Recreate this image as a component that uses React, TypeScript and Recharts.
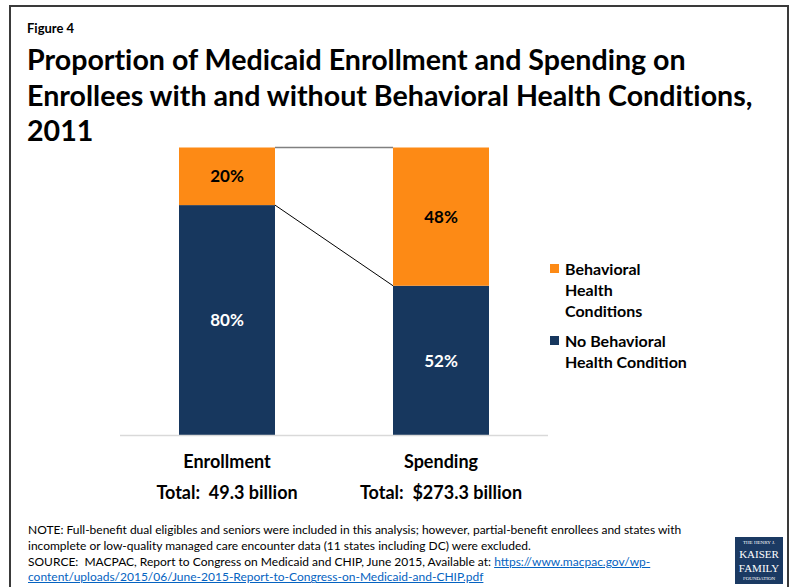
import React from 'react';
import { BarChart, Bar, XAxis, YAxis, LabelList, Legend } from 'recharts';

const categories = ['Enrollment', 'Spending'];
const totals = ['Total:  49.3 billion', 'Total:  $273.3 billion'];
const noBehavioral = [80, 52];
const behavioral = [20, 48];

const ORANGE = '#FD8A15';
const NAVY = '#17375E';
const FONT = 'Lato, "Open Sans", sans-serif';

const data = categories.map((name, i) => ({
  name,
  total: totals[i],
  nobh: noBehavioral[i],
  bh: behavioral[i],
}));

// rectangles drawn by the bars, kept so the connector lines can join their corners
const rects: Record<string, { x: number; y: number; width: number; height: number }> = {};

const NavyShape = (props: any) => {
  const { x, y, width, height, index } = props;
  rects['n' + index] = { x, y, width, height };
  return <rect x={x} y={y} width={width} height={height} fill={NAVY} />;
};

const OrangeShape = (props: any) => {
  const { x, y, width, height, index } = props;
  rects['o' + index] = { x, y, width, height };
  const a = rects.o0;
  const b = rects.n0;
  return (
    <g>
      <rect x={x} y={y} width={width} height={height} fill={ORANGE} />
      {index === 1 && a && b && (
        <g>
          <line x1={a.x + a.width} y1={a.y} x2={x} y2={y} stroke="#808080" strokeWidth={1.5} />
          <line x1={b.x + b.width} y1={b.y} x2={x} y2={y + height} stroke="#000" strokeWidth={1} />
        </g>
      )}
    </g>
  );
};

const CategoryTick = (props: any) => {
  const { x, y, payload } = props;
  const i = categories.indexOf(payload.value);
  return (
    <g transform={`translate(${x},${y})`}>
      <text x={0} y={24} textAnchor="middle" fontFamily={FONT} fontWeight={700} fontSize={18} fill="#000">
        {payload.value}
      </text>
      <text x={0} y={55} textAnchor="middle" fontFamily={FONT} fontWeight={700} fontSize={18} fill="#000" style={{ whiteSpace: 'pre' }}>
        {totals[i]}
      </text>
    </g>
  );
};

const renderLegend = () => {
  const items = [
    { color: ORANGE, lines: ['Behavioral', 'Health', 'Conditions'] },
    { color: NAVY, lines: ['No Behavioral', 'Health Condition'] },
  ];
  return (
    <div style={{ fontFamily: FONT, fontWeight: 700, fontSize: 16, color: '#000', lineHeight: '21px' }}>
      {items.map((it, i) => (
        <div key={i} style={{ display: 'flex', alignItems: 'flex-start', marginBottom: i === 0 ? 9 : 0 }}>
          <span style={{ width: 9, height: 9, background: it.color, display: 'inline-block', marginTop: 6, marginRight: 6 }} />
          <div>
            {it.lines.map((l, j) => (
              <div key={j}>{l}</div>
            ))}
          </div>
        </div>
      ))}
    </div>
  );
};

export default function App() {
  return (
    <div style={{ position: 'absolute', left: 0, top: 0, width: 793, height: 587, background: '#fff', overflow: 'hidden', fontFamily: FONT }}>
      <div style={{ position: 'absolute', left: 9, top: 5, width: 780, height: 600, border: '2px solid #3a3a3a', boxSizing: 'border-box' }} />
      <div style={{ position: 'absolute', left: 27, top: 20, fontSize: 13, fontWeight: 700, color: '#000' }}>Figure 4</div>
      <div
        style={{
          position: 'absolute',
          left: 27,
          top: 42,
          fontSize: 28.6,
          fontWeight: 700,
          lineHeight: '35.5px',
          color: '#000',
          width: 760,
          fontVariantLigatures: 'none',
          whiteSpace: 'nowrap',
        }}
      >
        Proportion of Medicaid Enrollment and Spending on
        <br />
        Enrollees with and without Behavioral Health Conditions,
        <br />
        2011
      </div>

      <div style={{ position: 'absolute', left: 0, top: 0 }}>
        <BarChart
          width={793}
          height={587}
          data={data}
          margin={{ top: 147.5, right: 245, bottom: 121.5, left: 120 }}
          barSize={96}
        >
          <XAxis
            dataKey="name"
            height={30}
            axisLine={{ stroke: '#d9d9d9', strokeWidth: 1.5 }}
            tickLine={false}
            tick={<CategoryTick />}
            interval={0}
          />
          <YAxis hide domain={[0, 100]} />
          <Legend
            layout="vertical"
            align="center"
            verticalAlign="middle"
            content={renderLegend}
            wrapperStyle={{ left: 550, top: 258, width: 200 }}
          />
          <Bar dataKey="nobh" stackId="a" name="No Behavioral Health Condition" fill={NAVY} shape={<NavyShape />} isAnimationActive={false}>
            <LabelList dataKey="nobh" position="center" formatter={(v: any) => `${v}%`} fill="#fff" fontFamily={FONT} fontWeight={700} fontSize={17} />
          </Bar>
          <Bar dataKey="bh" stackId="a" name="Behavioral Health Conditions" fill={ORANGE} shape={<OrangeShape />} isAnimationActive={false}>
            <LabelList dataKey="bh" position="center" formatter={(v: any) => `${v}%`} fill="#000" fontFamily={FONT} fontWeight={700} fontSize={17} />
          </Bar>
        </BarChart>
      </div>

      <div style={{ position: 'absolute', left: 28, top: 522, fontSize: 12, lineHeight: '15.8px', color: '#000', width: 700 }}>
        NOTE: Full-benefit dual eligibles and seniors were included in this analysis; however, partial-benefit enrollees and states with
        <br />
        incomplete or low-quality managed care encounter data (11 states including DC) were excluded.
        <br />
        SOURCE:&nbsp; MACPAC, Report to Congress on Medicaid and CHIP, June 2015, Available at:{' '}
        <span style={{ color: '#0563C1', textDecoration: 'underline' }}>https://www.macpac.gov/wp-</span>
        <br />
        <span style={{ color: '#0563C1', textDecoration: 'underline' }}>content/uploads/2015/06/June-2015-Report-to-Congress-on-Medicaid-and-CHIP.pdf</span>
      </div>

      <div
        style={{
          position: 'absolute',
          left: 735,
          top: 537,
          width: 48,
          height: 47,
          background: '#1B3A63',
          color: '#fff',
          fontFamily: '"Liberation Serif", "DejaVu Serif", serif',
          textAlign: 'center',
          paddingTop: 3,
          boxSizing: 'border-box',
        }}
      >
        <div style={{ fontSize: 5, lineHeight: '6px' }}>THE HENRY J.</div>
        <div style={{ fontSize: 11, lineHeight: '14px', marginTop: 1 }}>KAISER</div>
        <div style={{ fontSize: 11, lineHeight: '14px' }}>FAMILY</div>
        <div style={{ fontSize: 5, lineHeight: '6px', marginTop: 1 }}>FOUNDATION</div>
      </div>
    </div>
  );
}
